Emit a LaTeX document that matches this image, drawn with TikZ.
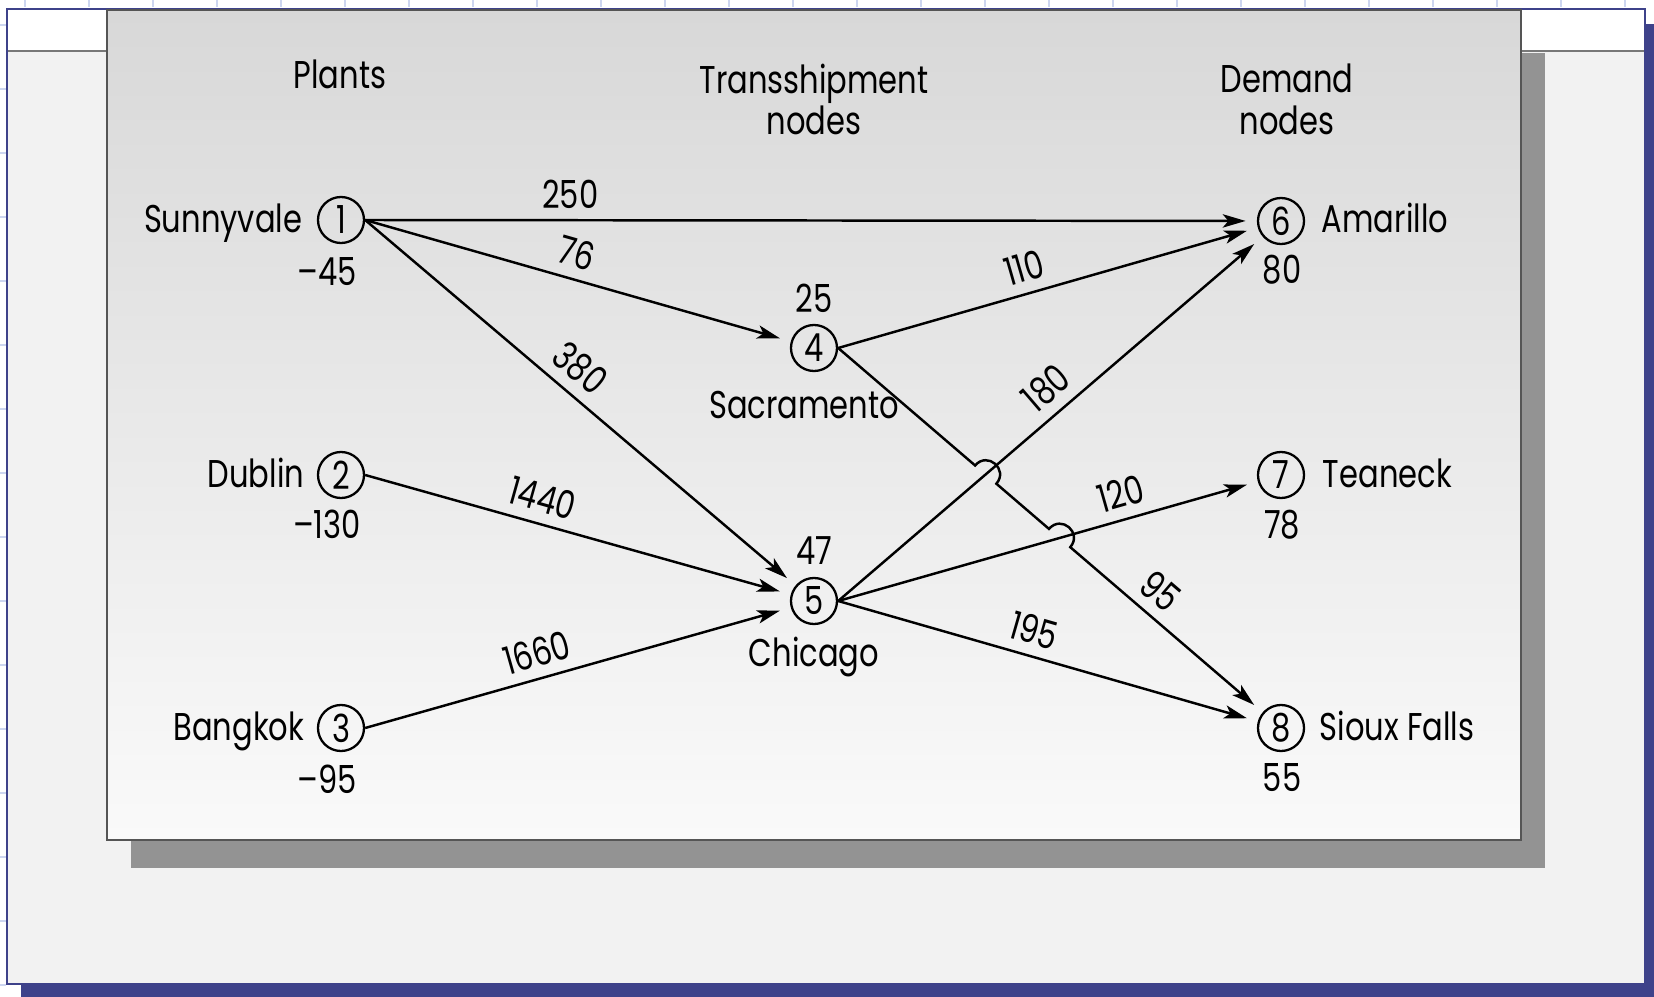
\documentclass[tikz,border=0pt]{standalone}
\usepackage{fontspec}
\setmainfont[FakeStretch=0.79]{Poppins}
\usetikzlibrary{arrows.meta,calc}

\definecolor{frameblue}{RGB}{62,66,138}
\definecolor{gridblue}{RGB}{205,214,240}
\definecolor{pagegray}{RGB}{242,242,242}
\definecolor{bandline}{RGB}{120,120,120}
\definecolor{shadowgray}{RGB}{147,147,147}
\definecolor{paneltop}{RGB}{216,216,216}
\definecolor{panelbottom}{RGB}{250,250,250}
\definecolor{paneledge}{RGB}{85,85,85}

\begin{document}
\begin{tikzpicture}[x=0.01cm,y=-0.01cm,
  txt/.style={font=\fontsize{11}{11.9}\selectfont, inner sep=0pt},
  stn/.style={circle, draw, line width=0.65pt, minimum size=0.46cm, inner sep=0pt,
              font=\fontsize{11}{11.9}\selectfont},
  flow/.style={line width=0.7pt, -{Stealth[length=6.5pt,width=3.8pt,inset=1.6pt]},
               shorten >=3.2pt},
  cost/.style={sloped, above=2pt, inner sep=1pt, font=\fontsize{11}{11.9}\selectfont}]

\useasboundingbox (0,0) rectangle (1654,997);

% faint page grid ticks in the margin
\foreach \i in {0,...,25} \draw[gridblue, line width=0.4pt] (25+64*\i,0) -- (25+64*\i,7);
\foreach \i in {0,...,15} \draw[gridblue, line width=0.4pt] (0,25+64*\i) -- (6,25+64*\i);

% slide frame with its blue drop shadow
\fill[frameblue] (21,24) rectangle (1660,1003);
\draw[frameblue, line width=0.5pt, fill=pagegray] (7,9) rectangle (1645,984);
\fill[white] (8,10) rectangle (1644,50);
\draw[bandline, line width=0.8pt] (8,51) -- (1644,51);

% figure panel and its shadow
\fill[shadowgray] (131,53) rectangle (1545,868);
\draw[paneledge, line width=0.45pt, top color=paneltop, bottom color=panelbottom]
  (107,10) rectangle (1521,840);

% column headings
\node[txt, anchor=base] (hplants) at (340,89) {Plants};
\node[txt, align=center, anchor=north] (htrans) at (814,63) {Transshipment\\nodes};
\node[txt, align=center, anchor=north] (hdemand) at (1287,63) {Demand\\nodes};

% network nodes
\node[stn] (n1) at (341,220) {1};
\node[stn] (n2) at (341,475) {2};
\node[stn] (n3) at (341,728) {3};
\node[stn] (n4) at (814,348) {4};
\node[stn] (n5) at (814,601) {5};
\node[stn] (n6) at (1281,221) {6};
\node[stn] (n7) at (1281,475) {7};
\node[stn] (n8) at (1281,728) {8};

% place names
\node[txt, anchor=base east] (l1) at ($(n1.west)+(-14,12)$) {Sunnyvale};
\node[txt, anchor=base east] (l2) at ($(n2.west)+(-12,12)$) {Dublin};
\node[txt, anchor=base east] (l3) at ($(n3.west)+(-12,12)$) {Bangkok};
\node[txt, anchor=base] (l4) at ($(n4)+(-10,71)$) {Sacramento};
\node[txt, anchor=base] (l5) at ($(n5)+(0,65)$) {Chicago};
\node[txt, anchor=base west] (l6) at ($(n6.east)+(16,12)$) {Amarillo};
\node[txt, anchor=base west] (l7) at ($(n7.east)+(17,12)$) {Teaneck};
\node[txt, anchor=base west] (l8) at ($(n8.east)+(14,12)$) {Sioux Falls};

% supplies and demands
\node[txt, anchor=base] (s1) at ($(n1)+(-14,66)$) {–45};
\node[txt, anchor=base] (s2) at ($(n2)+(-14,63)$) {–130};
\node[txt, anchor=base] (s3) at ($(n3)+(-14,65)$) {–95};
\node[txt, anchor=base] (s4) at ($(n4)+(0,-36)$) {25};
\node[txt, anchor=base] (s5) at ($(n5)+(0,-37)$) {47};
\node[txt, anchor=base] (s6) at ($(n6)+(1,63)$) {80};
\node[txt, anchor=base] (s7) at ($(n7)+(1,63)$) {78};
\node[txt, anchor=base] (s8) at ($(n8)+(1,63)$) {55};

% shipping routes
\draw[flow] (n1.east) -- node[cost,pos=0.23]{250} (n6);
\draw[flow] (n1.east) -- node[cost,pos=0.48]{76} (n4);
\draw[flow] (n1.east) -- node[cost,pos=0.46]{380} (n5);
\draw[flow] (n2.east) -- node[cost,pos=0.40]{1440} (n5);
\draw[flow] (n3.east) -- node[cost,pos=0.42]{1660} (n5);
\draw[flow] (n4.east) -- node[cost,pos=0.46]{110} (n6);
\draw[flow] (n5.east) -- node[cost,pos=0.53]{180} (n6);
\draw[flow] (n5.east) -- node[cost,pos=0.69]{120} (n7);
\draw[flow] (n5.east) -- node[cost,pos=0.45]{195} (n8);

% Sacramento -> Sioux Falls hops over the two Chicago routes
\coordinate (a4) at (n4.east);
\coordinate (a5) at (n5.east);
\coordinate (x1) at (intersection of a4--n8 and a5--n6);
\coordinate (x2) at (intersection of a4--n8 and a5--n7);
\draw[flow] (a4)
  -- ($(x1)!0.14cm!(a4)$)
  .. controls ($(x1)!0.14cm!(a4)!0.19cm!90:(x1)$) and ($(x1)!0.14cm!(n8)!0.19cm!-90:(x1)$)
  .. ($(x1)!0.14cm!(n8)$)
  -- ($(x2)!0.14cm!(a4)$)
  .. controls ($(x2)!0.14cm!(a4)!0.19cm!90:(x2)$) and ($(x2)!0.14cm!(n8)!0.19cm!-90:(x2)$)
  .. ($(x2)!0.14cm!(n8)$)
  -- (n8);
\path (a4) -- node[cost,pos=0.72]{95} (n8);

\end{tikzpicture}
\end{document}
